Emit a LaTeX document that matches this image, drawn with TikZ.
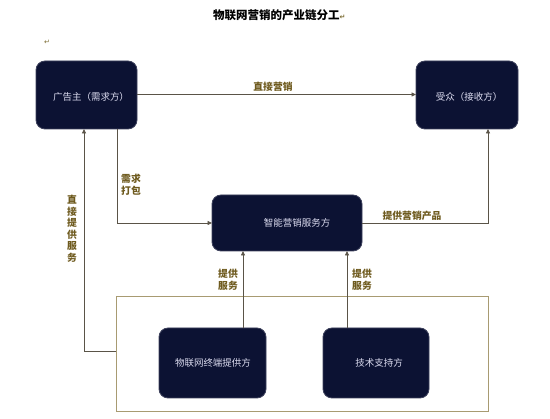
\documentclass[tikz,border=0pt]{standalone}
\usepackage{fontspec}
\newfontfamily\cjk{Noto Sans CJK SC}
\newfontfamily\sym{DejaVu Sans}
\usetikzlibrary{arrows.meta}
\definecolor{boxfill}{HTML}{0C1233}
\definecolor{boxtext}{HTML}{DCDCF0}
\definecolor{linec}{HTML}{5A5448}
\definecolor{labelc}{HTML}{6E5A1E}
\definecolor{framec}{HTML}{A89B72}
\definecolor{markc}{HTML}{7A6A30}
\tikzset{
  darkbox/.style={draw=boxfill!80!white, fill=boxfill, rounded corners=9pt, line width=0.8pt},
  boxlab/.style={text=boxtext, font=\cjk\fontsize{9.5}{11}\selectfont},
  conn/.style={draw=linec, line width=0.8pt, -{Triangle[length=4.5pt,width=4pt]}},
  lab/.style={text=labelc, font=\cjk\bfseries\fontsize{9.8}{11.5}\selectfont, inner sep=0pt, align=center},
}
\begin{document}
\begin{tikzpicture}[x=1pt,y=-1pt]
\useasboundingbox (0,0) rectangle (550,419);
% title
\node[font=\cjk\bfseries\fontsize{11.5}{13}\selectfont, anchor=west, inner sep=0pt] (title) at (213,15) {物联网营销的产业链分工\textcolor{markc}{\sym\fontsize{7}{8}\selectfont ↵}};
\node[text=markc, font=\sym\fontsize{7}{8}\selectfont, inner sep=0pt] (pm) at (47,42) {↵};
% frame
\draw[draw=framec, line width=1pt] (116,297) rectangle (488,412);
\coordinate (frameL) at (116,351);
% boxes
\path[darkbox] (36,61) rectangle (137,129);
\node[boxlab] (adv) at (91,97) {广告主（需求方）};
\coordinate (advE) at (137,94.5);
\path[darkbox] (416,61) rectangle (518,129);
\node[boxlab] (aud) at (469,97) {受众（接收方）};
\coordinate (audW) at (416,94.5);
\path[darkbox] (212,195) rectangle (362,251);
\node[boxlab] (smart) at (297,223) {智能营销服务方};
\path[darkbox] (159,328) rectangle (266,398);
\node[boxlab] (iot) at (213,363) {物联网终端提供方};
\path[darkbox] (323,328) rectangle (429,398);
\node[boxlab] (tech) at (379,363) {技术支持方};
% connectors
\draw[conn] (advE) -- (audW);
\node[lab] (l1) at (273,87) {直接营销};
\draw[conn] (117,129) |- (212,223);
\node[lab, anchor=north west] (l2) at (121,174) {需求\\打包};
\draw[conn] (362,223) -| (488,129);
\node[lab] (l3) at (412,216) {提供营销产品};
\draw[conn] (frameL) -| (84,129);
\node[lab, text width=10pt] (l4) at (72,229) {直\\接\\提\\供\\服\\务};
\draw[conn] (243,328) -- (243,251);
\node[lab] (l5) at (228,280) {提供\\服务};
\draw[conn] (347,328) -- (347,251);
\node[lab] (l6) at (362,280) {提供\\服务};
\end{tikzpicture}
\end{document}
